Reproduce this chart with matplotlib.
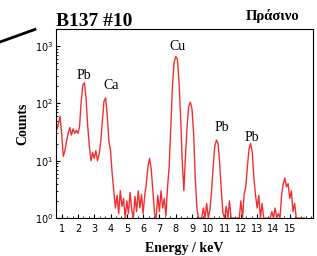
import numpy as np
import matplotlib
matplotlib.use('Agg')
import matplotlib.pyplot as plt
from matplotlib.lines import Line2D
from matplotlib.ticker import MultipleLocator, FixedLocator, LogLocator, NullFormatter

# energy channels (keV), 0.1 keV steps from 0.7 to 15.9
energy = np.round(np.arange(0.7, 15.95, 0.1), 2)

counts = [
    35, 45, 60,
    30, 12, 15, 22, 30, 38, 28, 36, 30, 34,
    30, 40, 110, 210, 230, 120, 40, 18, 10, 14,
    11, 15, 10, 13, 22, 50, 110, 125, 60, 22,
    15, 6, 3, 1.5, 2.5, 1.2, 3, 1.6, 2.2, 1,
    2, 1.2, 2.8, 1.4, 1, 2.4, 1.3, 3, 1.5, 2.6,
    1.2, 2.5, 4, 8, 11, 7, 3, 1.2, 1, 2.5,
    1.3, 3, 1.5, 2.2, 1.1, 3.5, 8, 40, 200, 520,
    660, 600, 250, 60, 10, 3, 12, 40, 90, 105,
    80, 30, 5, 1.5, 1, 1, 1, 1.5, 1, 1.8,
    1, 1.4, 3, 8, 18, 23, 20, 9, 3, 1.2,
    1, 1.6, 1, 2, 1, 1, 1, 1, 1, 1,
    2, 1, 2.6, 3.5, 8, 16, 20, 14, 5, 2.5,
    1.5, 2.5, 1, 1.8, 1, 1, 1, 1, 1, 1.3,
    1, 1.5, 1, 1.2, 1, 2.5, 4, 5, 3.5, 4,
    2.2, 3, 1.3, 1.8, 1, 1, 1, 1, 1, 1,
]

x_ticks = list(range(1, 16))

peak_labels = ['Pb', 'Ca', 'Cu', 'Pb', 'Pb']
peak_x = [2.38, 4.06, 8.1, 10.85, 12.7]
peak_y = [310, 205, 1000, 38, 26]

fig = plt.figure(figsize=(3.17, 2.56), dpi=100)
ax = fig.add_axes([0.177, 0.148, 0.809, 0.739])

ax.plot(energy, counts, color='#f03030', lw=1.0)
ax.set_yscale('log')
ax.set_xlim(0.66, 16.4)
ax.set_ylim(1, 2000)

ax.xaxis.set_major_locator(FixedLocator(x_ticks))
ax.xaxis.set_minor_locator(MultipleLocator(1 / 3))
ax.yaxis.set_major_locator(LogLocator(base=10, numticks=5))
ax.yaxis.set_minor_locator(LogLocator(base=10, subs=np.arange(2, 10), numticks=10))
ax.yaxis.set_minor_formatter(NullFormatter())
ax.tick_params(which='both', direction='in', top=False, right=False, labelsize=7)
ax.tick_params(axis='x', pad=4)
ax.tick_params(axis='y', pad=2)
ax.tick_params(which='major', length=3)
ax.tick_params(which='minor', length=1.5)

for lab, x, y in zip(peak_labels, peak_x, peak_y):
    ax.text(x, y, lab, ha='center', va='center', family='Liberation Serif', fontsize=10)

ax.set_xlabel('Energy / keV', family='Liberation Serif', fontweight='bold', fontsize=10, labelpad=6)
ax.set_ylabel('Counts', family='Liberation Serif', fontweight='bold', fontsize=10, labelpad=4)

fig.text(0.177, 0.898, 'B137 #10', family='Liberation Serif', fontweight='bold', fontsize=14,
         ha='left', va='baseline')
fig.text(0.945, 0.922, 'Πράσινο', family='Liberation Serif', fontweight='bold', fontsize=10.5,
         ha='right', va='baseline')
fig.add_artist(Line2D([0.0, 0.11], [0.836, 0.885], color='black', lw=2, transform=fig.transFigure))

fig.savefig('out.png', dpi=100)
